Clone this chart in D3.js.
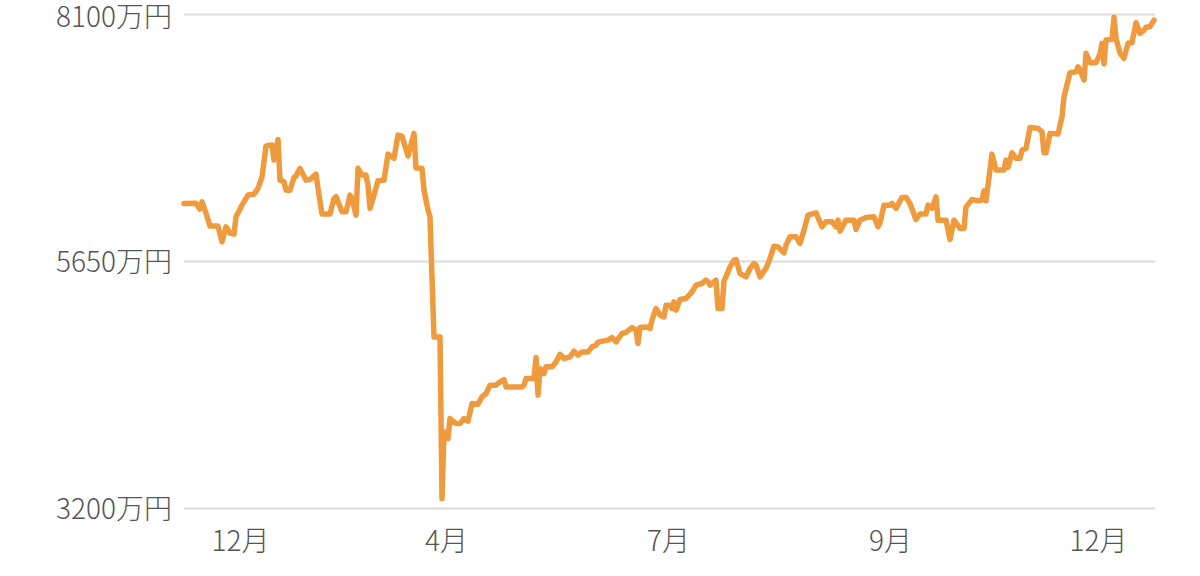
<!DOCTYPE html>
<html>
<head>
<meta charset="utf-8">
<script src="https://cdn.jsdelivr.net/npm/d3@7"></script>
<style>
html,body{margin:0;padding:0;background:#fff;}
svg{display:block;}
</style>
</head>
<body>
<svg id="chart" width="1200" height="576"></svg>
<script>
// trading-day index (x) and asset value in 万円 (y)
const days = [0,6,8,9,11,13,17,19,21,23,25,26,29,30,32,35,37,39,41,44,45,47,48,50,51,53,55,56,58,61,63,66,67,69,73,75,76,79,81,83,84,86,87,89,91,92,93,95,97,100,102,105,107,109,112,115,116,119,120,122,123,125,128,129,130,132,133,136,138,140,142,144,147,149,151,153,156,158,160,161,169,170,171,175,176,177,178,180,181,184,186,188,190,193,195,197,199,202,204,206,207,210,212,214,216,219,221,224,226,227,228,231,233,234,236,238,240,241,243,244,245,246,248,251,253,254,256,259,261,262,263,266,267,269,270,271,273,275,276,278,281,283,285,286,288,291,293,295,297,300,301,303,306,308,310,312,316,319,321,324,326,327,328,331,335,336,338,341,345,347,348,350,353,354,356,359,361,363,366,368,371,372,374,376,377,381,383,385,386,388,390,391,394,397,399,400,401,404,406,410,411,412,414,416,418,419,421,423,427,429,430,431,433,437,439,440,443,446,447,448,450,451,453,456,458,459,460,461,464,465,466,468,470,472,474,476,478,480,481,483,485];
const values = [6221,6222,6165,6237,6125,5996,5996,5840,5989,5926,5916,6088,6204,6237,6304,6313,6370,6485,6790,6800,6651,6856,6452,6436,6353,6353,6479,6492,6569,6452,6459,6512,6370,6115,6115,6271,6287,6138,6138,6304,6271,6105,6569,6502,6502,6403,6172,6304,6446,6452,6710,6668,6899,6889,6691,6916,6572,6569,6353,6155,6088,4897,4897,3293,3954,3889,4087,4038,4038,4087,4061,4236,4229,4302,4335,4418,4418,4451,4474,4401,4401,4418,4484,4484,4693,4319,4584,4534,4600,4600,4649,4725,4683,4699,4755,4716,4748,4748,4798,4815,4845,4858,4864,4891,4848,4931,4941,4990,4964,4832,4990,4996,4981,5063,5179,5113,5096,5212,5212,5179,5245,5162,5268,5278,5321,5344,5410,5427,5460,5443,5410,5460,5179,5179,5453,5493,5592,5658,5665,5526,5493,5576,5626,5609,5493,5576,5675,5797,5790,5731,5807,5890,5890,5824,5956,6105,6128,5989,6039,6039,5989,6055,5946,6055,6055,5963,6055,6082,6088,5989,6029,6204,6204,6221,6172,6281,6281,6221,6062,6115,6115,6204,6172,6287,6055,6055,5864,6055,6029,5973,5973,6187,6261,6247,6254,6346,6247,6710,6552,6552,6651,6578,6723,6668,6668,6750,6767,6975,6966,6932,6723,6723,6916,6909,7081,7279,7517,7527,7577,7544,7445,7710,7617,7617,7703,7809,7604,7842,7849,8067,7859,7710,7660,7809,7815,8014,7908,7941,7968,7974,8040];

const yTicks = [3200, 5650, 8100];
const xTickDays = [28, 131, 242, 353, 457];
const xTickLabels = ["12月", "4月", "7月", "9月", "12月"];

const data = days.map((d, i) => ({d, v: values[i]}));

const svg = d3.select("#chart");
const mLeft = 184, mRight = 1155, mTop = 14, mBottom = 508;
const font = "'Noto Sans CJK JP','Noto Sans',sans-serif";

const x = d3.scaleLinear().domain([0, 485]).range([mLeft, 1154]);
const y = d3.scaleLinear().domain([3200, 8100]).range([mBottom, mTop]);

// y axis with gridlines
const yAxis = svg.append("g")
  .attr("transform", `translate(${mLeft},0)`)
  .call(d3.axisLeft(y).tickValues(yTicks).tickSize(-(mRight - mLeft)).tickPadding(12)
    .tickFormat(v => v + "万円"));
yAxis.select(".domain").remove();
yAxis.selectAll(".tick line").attr("stroke", "#dcdcdc").attr("stroke-width", 2);
yAxis.selectAll(".tick text").attr("fill", "#555").attr("font-size", 28)
  .attr("font-family", font).attr("font-weight", 300)
  .attr("dy", d => d === 8100 ? "0.46em" : "0.38em");

// x axis labels
const xAxis = svg.append("g")
  .attr("transform", `translate(0,${mBottom})`)
  .call(d3.axisBottom(x).tickValues(xTickDays).tickSize(0).tickPadding(23)
    .tickFormat((d, i) => xTickLabels[i]));
xAxis.select(".domain").remove();
xAxis.selectAll(".tick text").attr("fill", "#555").attr("font-size", 28)
  .attr("font-family", font).attr("font-weight", 300);

// line
svg.append("path")
  .datum(data)
  .attr("fill", "none")
  .attr("stroke", "#f09a3e")
  .attr("stroke-width", 5.5)
  .attr("stroke-linejoin", "round")
  .attr("stroke-linecap", "round")
  .attr("d", d3.line().x(p => x(p.d)).y(p => y(p.v)));
</script>
</body>
</html>
